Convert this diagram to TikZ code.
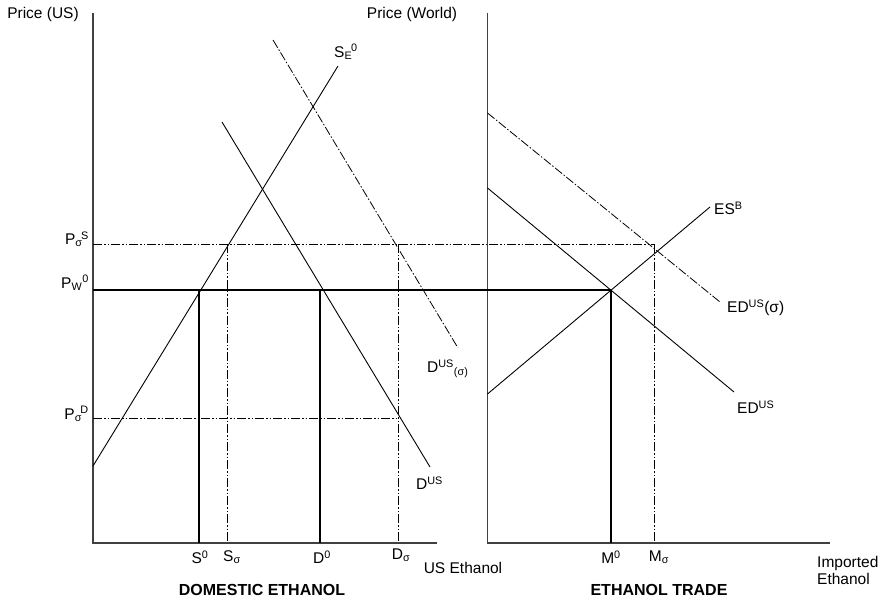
\documentclass[tikz,border=0pt]{standalone}
\usepackage{fontspec}
\setmainfont{Liberation Sans}
\begin{document}
\begin{tikzpicture}[x=1pt,y=-1pt,
  axis/.style={line width=1.1pt,draw=black!75},
  curve/.style={line width=0.9pt},
  shifted/.style={line width=0.8pt,dash pattern=on 9pt off 2pt on 1.5pt off 2pt},
  guide/.style={line width=0.8pt,dash pattern=on 9pt off 2pt on 1.5pt off 2pt on 1.5pt off 2pt},
  level/.style={line width=2pt},
  lbl/.style={font=\fontsize{15.5}{17}\selectfont,inner sep=0pt},
  title/.style={font=\fontsize{16}{18}\selectfont\bfseries,inner sep=0pt}]
\useasboundingbox (0,0) rectangle (886,601);

% axes
\coordinate (LT) at (93,13);
\coordinate (LO) at (93,543);
\coordinate (LR) at (437,543);
\coordinate (RT) at (487.5,13);
\coordinate (RO) at (487.5,543);
\coordinate (RR) at (830,543);
\draw[axis] (LT) -- (LO) -- (LR);
\draw[axis] (RT) -- (RO) -- (RR);

% domestic supply and demand
\coordinate (s1) at (93,466);
\coordinate (s2) at (338,66);
\coordinate (d1) at (222,122);
\coordinate (d2) at (430,467);
\coordinate (ds1) at (273,40);
\coordinate (ds2) at (458,348);
\draw[curve] (s1) -- (s2);
\draw[curve] (d1) -- (d2);
\draw[shifted] (ds1) -- (ds2);

% excess demand and supply
\coordinate (es1) at (487.5,394);
\coordinate (es2) at (710,207);
\coordinate (ed1) at (487.5,188);
\coordinate (ed2) at (734,392);
\coordinate (eds1) at (487.5,113);
\coordinate (eds2) at (720,302);
\draw[curve] (es1) -- (es2);
\draw[curve] (ed1) -- (ed2);
\draw[shifted] (eds1) -- (eds2);

% price levels
\coordinate (pw) at (93,290);
\coordinate (ps) at (93,244);
\coordinate (pd) at (93,418);
\coordinate (S0) at (199,290);
\coordinate (D0) at (320,290);
\coordinate (M0) at (611,290);
\coordinate (Ss) at (227,244);
\coordinate (Ds) at (398,244);
\coordinate (Ms) at (654,244);
\coordinate (Dd) at (398,418);
\coordinate (S0b) at (199,543);
\coordinate (D0b) at (320,543);
\coordinate (M0b) at (611,543);
\coordinate (Ssb) at (227,543);
\coordinate (Dsb) at (398,543);
\coordinate (Msb) at (654,543);

\draw[guide] (ps) -- (Ms);
\draw[guide] (pd) -- (Dd);
\draw[guide] (Ss) -- (Ssb);
\draw[guide] (Ds) -- (Dsb);
\draw[guide] (Ms) -- (Msb);
\draw[level] (pw) -- (M0);
\draw[level] (S0) -- (S0b);
\draw[level] (D0) -- (D0b);
\draw[level] (M0) -- (M0b);

% labels
\node[lbl] (tUS) at (43,14) {Price (US)};
\node[lbl] (tW) at (412,14) {Price (World)};
\node[lbl,anchor=west] (lSE) at (334,52) {S\textsubscript{E}\kern-0.08em\textsuperscript{0}};
\node[lbl,anchor=east] (lPs) at (89,239) {P\textsubscript{σ}\kern-0.1em\textsuperscript{S}};
\node[lbl,anchor=east] (lPw) at (89,283) {P\textsubscript{W}\textsuperscript{0}};
\node[lbl,anchor=east] (lPd) at (89,414) {P\textsubscript{σ}\kern-0.1em\textsuperscript{D}};
\node[lbl,anchor=west] (lDs) at (427,369) {D\textsuperscript{US}\textsubscript{(σ)}};
\node[lbl,anchor=west] (lD) at (416,483) {D\textsuperscript{US}};
\node[lbl,anchor=west] (lES) at (714,208) {ES\textsuperscript{B}};
\node[lbl,anchor=west] (lEDs) at (727,308) {ED\textsuperscript{US}(σ)};
\node[lbl,anchor=west] (lED) at (737,407) {ED\textsuperscript{US}};
\node[lbl] (xS0) at (200,557) {S\textsuperscript{0}};
\node[lbl] (xSs) at (232,557) {S\textsubscript{σ}};
\node[lbl] (xD0) at (322,557) {D\textsuperscript{0}};
\node[lbl] (xDs) at (401,555) {D\textsubscript{σ}};
\node[lbl] (xUS) at (463,568) {US Ethanol};
\node[lbl] (xM0) at (611,557) {M\textsuperscript{0}};
\node[lbl] (xMs) at (659,557) {M\textsubscript{σ}};
\node[lbl,align=left,anchor=west] (xIm) at (817,570) {Imported\\Ethanol};
\node[title] (tDom) at (262,590) {DOMESTIC ETHANOL};
\node[title] (tTr) at (659,590) {ETHANOL TRADE};
\end{tikzpicture}
\end{document}
